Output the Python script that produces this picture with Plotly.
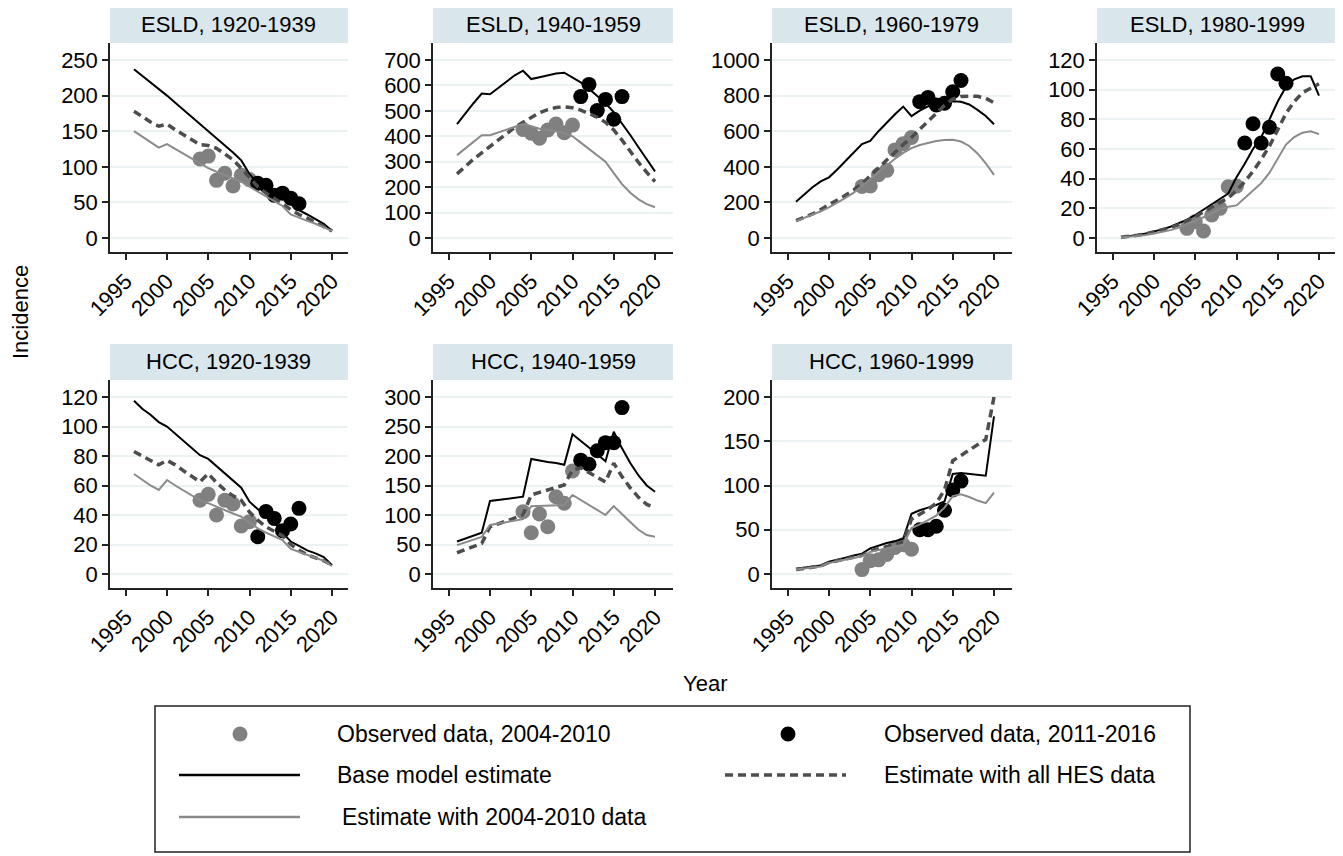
import plotly.graph_objects as go

W, H = 1343, 856
years = list(range(1996, 2021))
obs1_years = list(range(2004, 2011))
obs2_years = list(range(2011, 2017))

panel_titles = ["ESLD, 1920-1939", "ESLD, 1940-1959", "ESLD, 1960-1979", "ESLD, 1980-1999",
                "HCC, 1920-1939", "HCC, 1940-1959", "HCC, 1960-1999"]
y_tick_max = [250, 700, 1000, 120, 120, 300, 200]
y_tick_step = [50, 100, 200, 20, 20, 50, 50]
x_ticks = [1995, 2000, 2005, 2010, 2015, 2020]

# ESLD 1920-1939
esld20_base = [237, 228, 219, 209, 200, 190, 180, 170, 160, 150, 141, 131, 120, 109, 90, 76, 70, 63, 56, 47, 39, 33, 27, 20, 10]
esld20_hes = [178, 170, 163, 157, 160, 152, 145, 138, 131, 130, 126, 118, 110, 98, 85, 72, 63, 56, 48, 40, 33, 28, 22, 17, 10]
esld20_early = [150, 142, 134, 127, 132, 125, 118, 111, 104, 98, 93, 88, 83, 79, 72, 65, 58, 52, 45, 33, 28, 24, 20, 15, 10]
esld20_obs1 = [111, 115, 81, 91, 73, 88, 82]
esld20_obs2 = [77, 74, 60, 63, 56, 48]

# ESLD 1940-1959
esld40_base = [448, 490, 530, 568, 565, 590, 615, 640, 658, 625, 632, 640, 647, 650, 632, 612, 587, 560, 530, 495, 452, 405, 357, 308, 262]
esld40_hes = [252, 282, 310, 335, 360, 385, 410, 435, 455, 475, 493, 505, 513, 516, 512, 503, 490, 475, 455, 425, 385, 340, 297, 258, 222]
esld40_early = [326, 352, 378, 404, 404, 415, 427, 438, 448, 440, 430, 425, 420, 412, 400, 375, 350, 325, 300, 255, 212, 178, 152, 133, 121]
esld40_obs1 = [427, 412, 392, 425, 448, 414, 444]
esld40_obs2 = [556, 604, 501, 545, 467, 556]

# ESLD 1960-1979
esld60_base = [204, 245, 285, 318, 341, 385, 430, 480, 528, 545, 600, 650, 695, 738, 685, 715, 740, 750, 760, 768, 765, 750, 720, 685, 639]
esld60_hes = [97, 115, 135, 160, 185, 212, 240, 270, 305, 350, 395, 440, 485, 525, 565, 610, 655, 700, 745, 780, 795, 797, 796, 785, 760]
esld60_early = [95, 112, 130, 150, 172, 197, 225, 255, 290, 330, 370, 408, 445, 478, 505, 522, 535, 545, 551, 552, 542, 517, 475, 420, 355]
esld60_obs1 = [290, 292, 355, 380, 495, 530, 565]
esld60_obs2 = [766, 790, 747, 757, 822, 885]

# ESLD 1980-1999
esld80_base = [0.5, 1, 2, 3, 4.3, 5.8, 7.6, 9.8, 12.4, 15.5, 19, 22.5, 26, 30, 41, 50, 60, 68, 80, 92, 102, 107, 109, 109, 96]
esld80_hes = [0.5, 1, 1.8, 2.8, 4, 5.3, 7, 9, 11.5, 14.5, 17.5, 21, 24, 27, 32, 38, 45, 53, 62, 73, 84, 92, 98, 101, 104]
esld80_early = [0.3, 0.7, 1.3, 2, 3, 4, 5.3, 7, 9, 11.5, 14, 17, 19.5, 21, 22, 27, 32, 37, 44, 54, 63, 68, 71, 72, 70]
esld80_obs1 = [6.5, 11, 4.7, 15.5, 20, 34.6, 35]
esld80_obs2 = [64, 77, 64, 74.6, 110.6, 104.3]

# HCC 1920-1939
hcc20_base = [117.5, 112, 108, 103, 100, 95, 90, 85, 80.5, 78, 73, 68, 63, 58.5, 49, 44, 40, 35, 28, 22, 19, 16, 14, 11.5, 6]
hcc20_hes = [83, 80, 77, 74, 77, 74, 70, 66, 62.5, 68, 62, 57, 53, 50, 42, 36.5, 32, 29, 26, 20, 16, 13, 11, 9, 6]
hcc20_early = [67.8, 64, 60, 57, 63.7, 60, 56.5, 53, 50, 48, 45.5, 43, 41, 38.9, 35, 31, 28, 25.5, 23, 17, 15, 13, 11, 9, 5.4]
hcc20_obs1 = [50, 54, 40, 50, 47.5, 32.5, 35.5]
hcc20_obs2 = [25.3, 42.3, 37.7, 29.4, 33.9, 44.5]

# HCC 1940-1959
hcc40_base = [55, 60, 65, 70, 123.7, 125.5, 127.5, 129.5, 131, 195, 192, 190, 188, 185, 237, 226, 215, 203, 191, 241, 213, 188, 167, 150, 139.5]
hcc40_hes = [36, 41, 46.5, 52, 80, 85, 90, 95, 100, 134, 138, 142, 147, 151, 176, 180, 172, 164, 156, 188, 165, 146, 130, 118, 112]
hcc40_early = [49, 53.5, 58, 63, 83, 85.5, 88, 90.5, 93, 115, 115.5, 116, 116.5, 117, 134, 125.5, 117, 108.5, 100, 115, 101, 88, 75, 66, 63]
hcc40_obs1 = [105.6, 70, 101.7, 80, 131, 119.8, 174.6]
hcc40_obs2 = [193, 186, 209, 222.6, 222.6, 282]

# HCC 1960-1999
hcc60_base = [6, 7, 8, 9.5, 14, 16, 18.5, 21, 23, 29, 32, 35, 37, 40, 68, 72, 75, 78, 82, 113, 114, 113, 112, 111, 178]
hcc60_hes = [5, 6.5, 8, 9, 13, 15, 17, 19.5, 21, 26, 29, 31, 33, 36, 62, 67, 73, 80, 95, 128, 134, 140, 146, 152, 200]
hcc60_early = [5, 6, 7.5, 8.5, 12.5, 14.5, 16.5, 18.5, 20, 25, 27, 29, 31, 33, 52, 56, 61, 66, 75, 88, 90, 87, 83, 80, 92]
hcc60_obs1 = [5, 15, 16, 22, 30, 33, 28]
hcc60_obs2 = [50, 50, 54, 72, 95, 105]

legend_labels = ["Observed data, 2004-2010", "Observed data, 2011-2016", "Base model estimate",
                 "Estimate with all HES data", "Estimate with 2004-2010 data"]

panels = [
    (esld20_base, esld20_hes, esld20_early, esld20_obs1, esld20_obs2),
    (esld40_base, esld40_hes, esld40_early, esld40_obs1, esld40_obs2),
    (esld60_base, esld60_hes, esld60_early, esld60_obs1, esld60_obs2),
    (esld80_base, esld80_hes, esld80_early, esld80_obs1, esld80_obs2),
    (hcc20_base, hcc20_hes, hcc20_early, hcc20_obs1, hcc20_obs2),
    (hcc40_base, hcc40_hes, hcc40_early, hcc40_obs1, hcc40_obs2),
    (hcc60_base, hcc60_hes, hcc60_early, hcc60_obs1, hcc60_obs2),
]

# ---------- styling / geometry ----------
FONT = "Arial, Liberation Sans, Helvetica, sans-serif"
C_BLACK = "#000000"
C_DASH = "#4d4d4d"
C_GRAY_LINE = "#8a8a8a"
C_GRAY_DOT = "#808080"
C_STRIP = "#d9e6eb"
C_GRID = "#eaf2f3"
DASH = "8px,5px"
MS = 15
TICK_FS = 22
STRIP_FS = 22
LEG_FS = 23
TITLE_FS = 22

col_px = [(110, 348), (433, 673), (772, 1012), (1097, 1337)]
rows = [
    dict(strip=(7, 43), plot=(43, 252), top_tick=60, zero=238),
    dict(strip=(344, 380), plot=(380, 588), top_tick=397, zero=574),
]
OFF = 8  # page body margin compensation

def fx(p):
    return (p - OFF) / W

def fy(p):
    return 1 - (p - OFF) / H

fig = go.Figure()
layout = dict(template="none", width=W, height=H, margin=dict(l=0, r=0, t=0, b=0, pad=0),
              autosize=False, paper_bgcolor="white", plot_bgcolor="white", showlegend=False,
              font=dict(family=FONT, color="black"))
shapes = []
annotations = []

for i, (base, hes, early, obs1, obs2) in enumerate(panels):
    r = 0 if i < 4 else 1
    c = i if i < 4 else i - 4
    x0, x1 = col_px[c]
    row = rows[r]
    py0, py1 = row["plot"]
    T = y_tick_max[i]
    unit = (row["zero"] - row["top_tick"]) / T
    ylo = -(py1 - row["zero"]) / unit
    yhi = T + (row["top_tick"] - py0) / unit
    xlo = 1996 - 24 / 8.25
    xhi = 1996 + (x1 - x0 - 24) / 8.25
    n = "" if i == 0 else str(i + 1)
    xa, ya = "x" + n, "y" + n

    layout["xaxis" + n] = dict(domain=[fx(x0), fx(x1)], anchor=ya, range=[xlo, xhi],
                              automargin=False,
                              tickmode="array", tickvals=x_ticks, tickangle=-45,
                              ticks="outside", ticklen=6, tickwidth=1.5, tickcolor="#222",
                              showline=True, linecolor="#222", linewidth=1.5,
                              showgrid=False, zeroline=False,
                              tickfont=dict(size=TICK_FS, family=FONT, color="black"))
    layout["yaxis" + n] = dict(domain=[fy(py1), fy(py0)], anchor=xa, range=[ylo, yhi],
                              automargin=False,
                              tickmode="linear", tick0=0, dtick=y_tick_step[i],
                              ticks="outside", ticklen=6, tickwidth=1.5, tickcolor="#222",
                              showline=True, linecolor="#222", linewidth=1.5,
                              showgrid=True, gridcolor=C_GRID, gridwidth=1.5, zeroline=False,
                              tickfont=dict(size=TICK_FS, family=FONT, color="black"))

    fig.add_trace(go.Scatter(x=obs1_years, y=obs1, mode="markers", xaxis=xa, yaxis=ya,
                             marker=dict(color=C_GRAY_DOT, size=MS, line=dict(width=0))))
    fig.add_trace(go.Scatter(x=obs2_years, y=obs2, mode="markers", xaxis=xa, yaxis=ya,
                             marker=dict(color=C_BLACK, size=MS, line=dict(width=0))))
    fig.add_trace(go.Scatter(x=years, y=base, mode="lines", xaxis=xa, yaxis=ya,
                             line=dict(color=C_BLACK, width=2)))
    fig.add_trace(go.Scatter(x=years, y=hes, mode="lines", xaxis=xa, yaxis=ya,
                             line=dict(color=C_DASH, width=3.5, dash=DASH)))
    fig.add_trace(go.Scatter(x=years, y=early, mode="lines", xaxis=xa, yaxis=ya,
                             line=dict(color=C_GRAY_LINE, width=2)))

    s0, s1 = row["strip"]
    shapes.append(dict(type="rect", xref="paper", yref="paper", x0=fx(x0), x1=fx(x1),
                       y0=fy(s1), y1=fy(s0), fillcolor=C_STRIP, line=dict(width=0), layer="below"))
    annotations.append(dict(text=panel_titles[i], xref="paper", yref="paper",
                            x=fx((x0 + x1) / 2), y=fy((s0 + s1) / 2), showarrow=False,
                            xanchor="center", yanchor="middle",
                            font=dict(size=STRIP_FS, family=FONT, color="black")))

# axis titles
annotations.append(dict(text="Incidence", xref="paper", yref="paper", x=fx(20), y=fy(312),
                        textangle=-90, showarrow=False, xanchor="center", yanchor="middle",
                        font=dict(size=TITLE_FS, family=FONT, color="black")))
annotations.append(dict(text="Year", xref="paper", yref="paper", x=fx(705), y=fy(683),
                        showarrow=False, xanchor="center", yanchor="middle",
                        font=dict(size=TITLE_FS, family=FONT, color="black")))

# legend box
shapes.append(dict(type="rect", xref="paper", yref="paper", x0=fx(155), x1=fx(1190),
                   y0=fy(852), y1=fy(706), line=dict(color="#222", width=1.5),
                   fillcolor="rgba(0,0,0,0)"))
ry = [734, 775, 817]

def leg_dot(cx, cy, color):
    rr = MS / 2
    shapes.append(dict(type="circle", xref="paper", yref="paper", x0=fx(cx - rr), x1=fx(cx + rr),
                       y0=fy(cy + rr), y1=fy(cy - rr), fillcolor=color, line=dict(width=0)))

def leg_line(xa_, xb_, cy, color, width, dash=None):
    ln = dict(color=color, width=width)
    if dash:
        ln["dash"] = dash
    shapes.append(dict(type="line", xref="paper", yref="paper", x0=fx(xa_), x1=fx(xb_),
                       y0=fy(cy), y1=fy(cy), line=ln))

def leg_text(x, cy, txt):
    annotations.append(dict(text=txt, xref="paper", yref="paper", x=fx(x), y=fy(cy),
                            showarrow=False, xanchor="left", yanchor="middle",
                            font=dict(size=LEG_FS, family=FONT, color="black")))

leg_dot(240, ry[0], C_GRAY_DOT)
leg_text(335, ry[0], legend_labels[0])
leg_dot(788, ry[0], C_BLACK)
leg_text(882, ry[0], legend_labels[1])
leg_line(179, 300, ry[1], C_BLACK, 2.5)
leg_text(335, ry[1], legend_labels[2])
leg_line(725, 846, ry[1], C_DASH, 3.5, DASH)
leg_text(882, ry[1], legend_labels[3])
leg_line(179, 300, ry[2], C_GRAY_LINE, 2.5)
leg_text(340, ry[2], legend_labels[4])

layout["shapes"] = shapes
layout["annotations"] = annotations
fig.update_layout(**layout)
fig.write_html("out.html")
